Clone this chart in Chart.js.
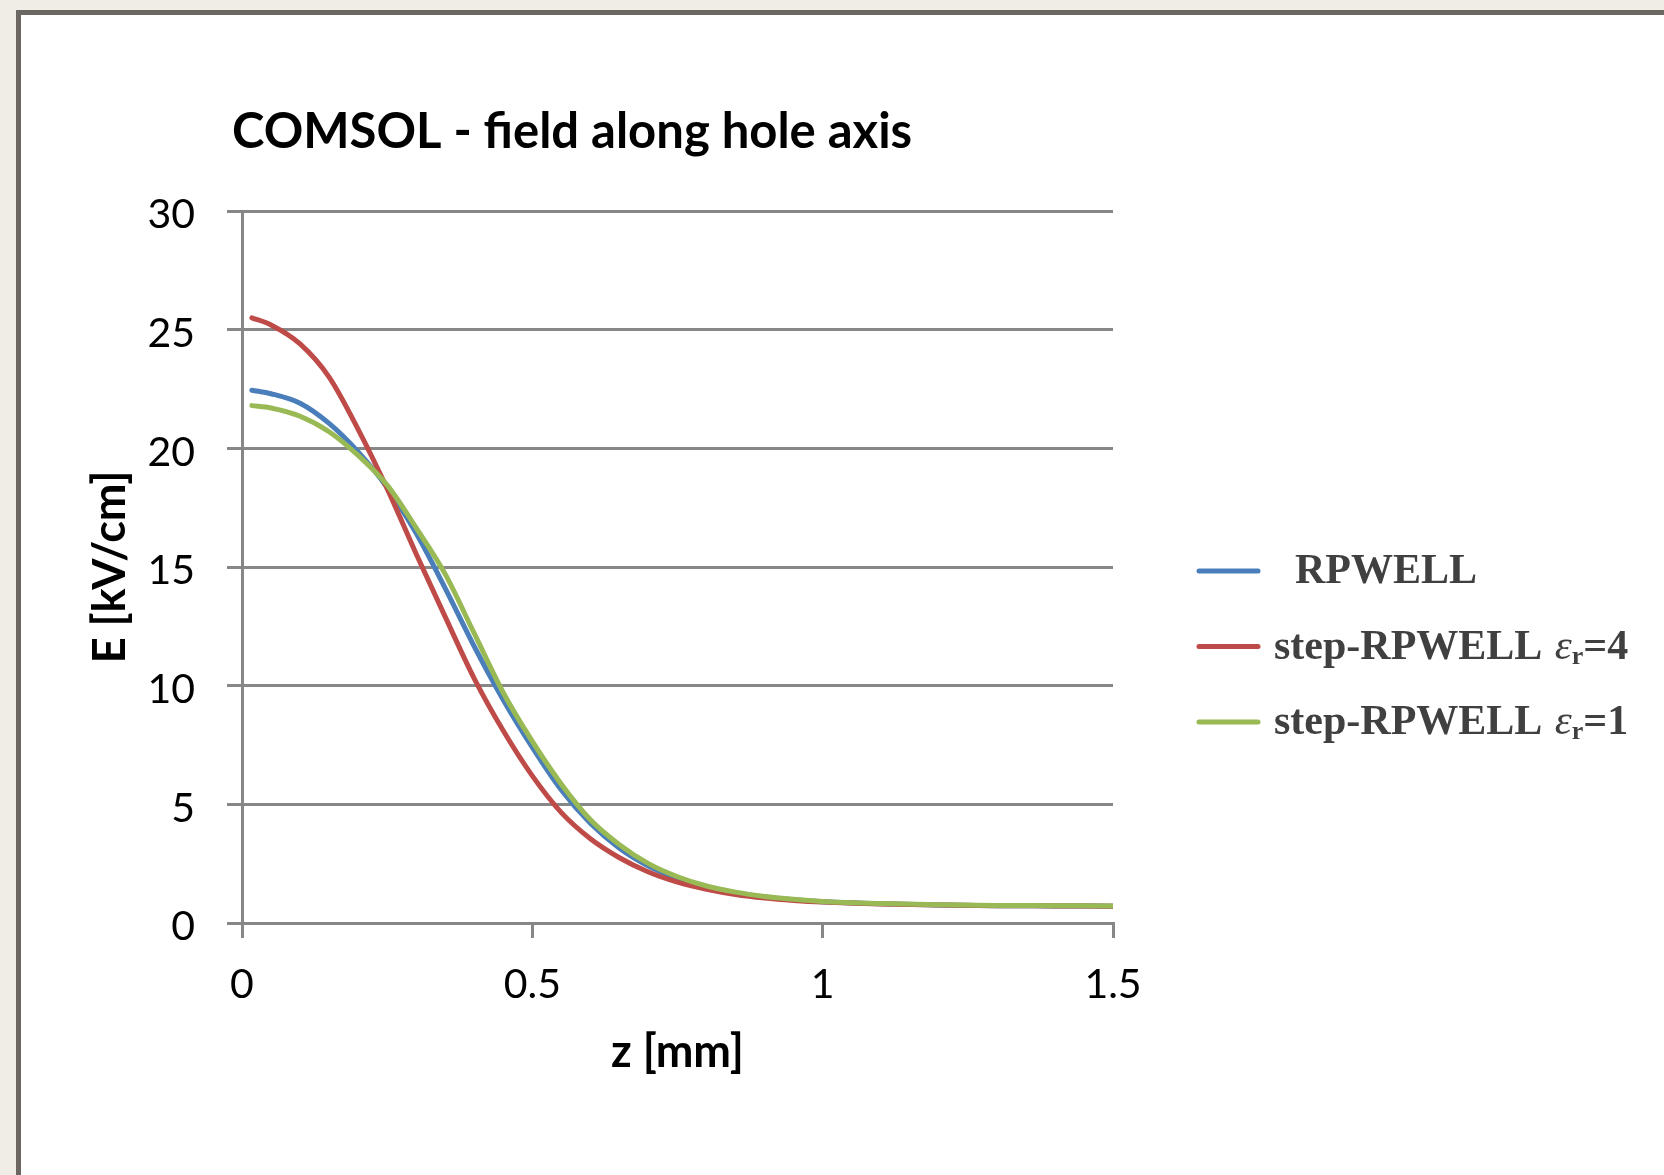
<!DOCTYPE html>
<html lang="en">
<head>
  <meta charset="UTF-8">
  <title>COMSOL - field along hole axis</title>
  <script src="https://cdn.jsdelivr.net/npm/chart.js"></script>
  <style>
    html, body {
      margin: 0;
      padding: 0;
      width: 1664px;
      height: 1175px;
      overflow: hidden;
      background: #f0ede6;
    }
    .frame {
      position: absolute;
      left: 16px;
      top: 10px;
      width: 1700px;
      height: 1220px;
      border: 5px solid #6b6661;
      background: #fff;
    }
    #fieldChart {
      position: absolute;
      left: 0;
      top: 0;
    }
  </style>
</head>
<body>
  <div class="frame"></div>
  <canvas id="fieldChart" width="1664" height="1175"></canvas>

<script>
  const chartTitle = 'COMSOL - field along hole axis';
  const xTitle = 'z [mm]';
  const yTitle = 'E [kV/cm]';

  // z positions along the hole axis (mm)
  const zValues = [0.017, 0.05, 0.1, 0.15, 0.2, 0.25, 0.3, 0.35, 0.4, 0.45, 0.5, 0.55, 0.6, 0.65, 0.7,
                   0.75, 0.8, 0.85, 0.9, 0.95, 1.0, 1.1, 1.2, 1.3, 1.4, 1.5];

  // field values (kV/cm)
  const rpwell  = [22.45, 22.3, 21.9, 21.05, 19.85, 18.35, 16.42, 14.1, 11.65, 9.4, 7.4, 5.6, 4.2, 3.15, 2.4,
                   1.88, 1.52, 1.27, 1.1, 0.98, 0.9, 0.81, 0.76, 0.73, 0.72, 0.71];
  const stepEr4 = [25.5, 25.2, 24.4, 23.0, 20.8, 18.3, 15.55, 12.9, 10.3, 8.1, 6.2, 4.65, 3.55, 2.75, 2.15,
                   1.72, 1.42, 1.2, 1.05, 0.95, 0.88, 0.8, 0.76, 0.73, 0.72, 0.71];
  const stepEr1 = [21.8, 21.7, 21.35, 20.7, 19.7, 18.45, 16.65, 14.7, 12.2, 9.7, 7.65, 5.85, 4.35, 3.3, 2.5,
                   1.95, 1.56, 1.3, 1.12, 1.0, 0.91, 0.82, 0.77, 0.74, 0.73, 0.72];

  const seriesNames  = ['  RPWELL', 'step-RPWELL ε_r=4', 'step-RPWELL ε_r=1'];
  const seriesColors = ['#4a7ebb', '#be4b48', '#98b954'];

  const xTicks = [0, 0.5, 1, 1.5];
  const yTicks = [0, 5, 10, 15, 20, 25, 30];

  const gridGray = '#878787';

  // title + legend drawn by hand (subscript in legend)
  const extrasPlugin = {
    id: 'extras',
    afterDraw(chart) {
      const ctx = chart.ctx;
      ctx.save();
      ctx.fillStyle = '#000';
      ctx.textBaseline = 'alphabetic';
      ctx.textAlign = 'left';
      ctx.font = 'bold 49px Lato';
      ctx.fillText(chartTitle, 232, 148);

      chart.data.datasets.forEach((ds, i) => {
        const y = 571 + i * 75.5;
        ctx.strokeStyle = ds.borderColor;
        ctx.lineWidth = 5;
        ctx.lineCap = 'round';
        ctx.beginPath();
        ctx.moveTo(1199, y);
        ctx.lineTo(1258, y);
        ctx.stroke();

        ctx.fillStyle = '#404040';
        let x = 1274;
        const base = y + 12;
        const parts = ds.label.split('ε_r');
        ctx.font = 'bold 42px "Liberation Serif"';
        ctx.fillText(parts[0], x, base);
        x += ctx.measureText(parts[0]).width;
        if (parts.length > 1) {
          x += 2;
          ctx.font = 'italic 43px "Liberation Serif"';
          ctx.fillText('ε', x, base);
          x += ctx.measureText('ε').width;
          ctx.font = 'bold 26px "Liberation Serif"';
          ctx.fillText('r', x, base + 5);
          x += ctx.measureText('r').width;
          ctx.font = 'bold 42px "Liberation Serif"';
          ctx.fillText(parts[1], x, base);
        }
      });
      ctx.restore();
    }
  };

  const fieldChart = new Chart(document.getElementById('fieldChart'), {
    type: 'line',
    data: {
      datasets: [rpwell, stepEr4, stepEr1].map((vals, i) => ({
        label: seriesNames[i],
        data: zValues.map((z, k) => ({ x: z, y: vals[k] })),
        borderColor: seriesColors[i],
        backgroundColor: seriesColors[i],
        borderWidth: 5,
        borderCapStyle: 'round',
        pointRadius: 0,
        cubicInterpolationMode: 'monotone',
        fill: false,
        order: 2 - i
      }))
    },
    options: {
      responsive: false,
      animation: false,
      layout: { padding: { left: 60, top: 211, right: 551, bottom: 92 } },
      plugins: {
        legend: { display: false },
        title: { display: false },
        tooltip: { enabled: false }
      },
      scales: {
        x: {
          type: 'linear',
          min: 0,
          max: 1.5,
          afterBuildTicks: s => { s.ticks = xTicks.map(v => ({ value: v })); },
          afterFit: s => { s.height = 160; },
          grid: { drawOnChartArea: false, color: gridGray, lineWidth: 3, tickLength: 15 },
          border: { color: gridGray, width: 3 },
          ticks: {
            color: '#000',
            font: { family: 'Lato', size: 41 },
            padding: 22,
            maxRotation: 0,
            callback: v => String(v)
          },
          title: {
            display: true,
            text: xTitle,
            color: '#000',
            font: { family: 'Lato', size: 45, weight: 'bold' },
            padding: { top: 0, bottom: 4 }
          }
        },
        y: {
          min: 0,
          max: 30,
          afterBuildTicks: s => { s.ticks = yTicks.map(v => ({ value: v })); },
          afterFit: s => { s.width = 182; },
          grid: { color: gridGray, lineWidth: 3, tickLength: 15 },
          border: { color: gridGray, width: 3 },
          ticks: {
            color: '#000',
            font: { family: 'Lato', size: 41 },
            padding: 32,
            labelOffset: 4
          },
          title: {
            display: true,
            text: yTitle,
            color: '#000',
            font: { family: 'Lato', size: 45, weight: 'bold' },
            padding: { top: 23, bottom: 0 }
          }
        }
      }
    },
    plugins: [extrasPlugin]
  });
</script>
</body>
</html>
